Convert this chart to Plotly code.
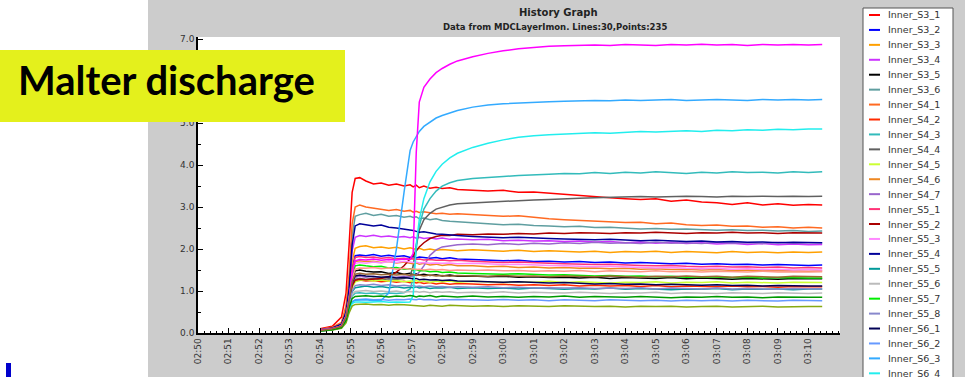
import plotly.graph_objects as go

# ---------------- data ----------------
TIME_LABELS = [
    "02:54:00", "02:54:24", "02:54:42", "02:54:51", "02:54:57", "02:55:03", "02:55:09",
    "02:55:18", "02:55:30", "02:55:45", "02:56:00", "02:56:15", "02:56:30", "02:56:45", "02:56:57",
    "02:57:03", "02:57:09", "02:57:15", "02:57:24", "02:57:36", "02:57:48", "02:58:00", "02:58:15", "02:58:30",
    "02:59:00", "02:59:30", "03:00:00", "03:00:30", "03:01:00", "03:01:30", "03:02:00", "03:02:30",
    "03:03:00", "03:03:30", "03:04:00", "03:04:30", "03:05:00", "03:05:30", "03:06:00", "03:06:30",
    "03:07:00", "03:07:30", "03:08:00", "03:08:30", "03:09:00", "03:09:30", "03:10:00", "03:10:27",
]

TICK_LABELS = ["02:50", "02:51", "02:52", "02:53", "02:54", "02:55", "02:56", "02:57", "02:58",
               "02:59", "03:00", "03:01", "03:02", "03:03", "03:04", "03:05", "03:06", "03:07",
               "03:08", "03:09", "03:10"]

Y_TICKS = [0, 1, 2, 3, 4, 5, 6, 7]
Y_TICK_TEXT = ["0.0", "1.0", "2.0", "3.0", "4.0", "5.0", "", "7.0"]  # 6.0 sits under the banner

SERIES_NAMES = [
    "Inner_S3_1", "Inner_S3_2", "Inner_S3_3", "Inner_S3_4", "Inner_S3_5", "Inner_S3_6",
    "Inner_S4_1", "Inner_S4_2", "Inner_S4_3", "Inner_S4_4", "Inner_S4_5", "Inner_S4_6", "Inner_S4_7",
    "Inner_S5_1", "Inner_S5_2", "Inner_S5_3", "Inner_S5_4", "Inner_S5_5", "Inner_S5_6", "Inner_S5_7",
    "Inner_S5_8", "Inner_S6_1", "Inner_S6_2", "Inner_S6_3", "Inner_S6_4", "Inner_S6_5", "Inner_S6_6",
    "Inner_S6_7", "Inner_S6_8", "Inner_S6_9",
]

SERIES_COLORS = [
    "#ff0000", "#0000ff", "#ffa000", "#cc33ff", "#000000", "#5f9ea0",
    "#ff6a22", "#ff2a00", "#33bbbb", "#606060", "#ccff33", "#ee8822", "#9966cc",
    "#ff3377", "#aa0000", "#ff88ff", "#000099", "#009999", "#bbbbbb", "#00ee00",
    "#8888cc", "#000055", "#6699ff", "#33aaff", "#22eeee", "#88aa11", "#ff9988",
    "#009900", "#ff00ff", "#996633",
]

S3_1 = [0.10, 0.16, 0.38, 0.95, 2.10, 3.35, 3.68,
        3.70, 3.62, 3.55, 3.57, 3.52, 3.55, 3.50, 3.53,
        3.48, 3.52, 3.46, 3.50, 3.45, 3.47, 3.44, 3.46, 3.42,
        3.40, 3.38, 3.40, 3.35, 3.36, 3.33, 3.30, 3.27, 3.25, 3.22, 3.20, 3.18,
        3.20, 3.14, 3.17, 3.12, 3.10, 3.06, 3.10, 3.05, 3.08, 3.04, 3.06, 3.05]
S3_2 = [0.07, 0.11, 0.18, 0.42, 0.85, 1.55, 1.84,
        1.86, 1.84, 1.87, 1.83, 1.85, 1.82, 1.84, 1.80,
        1.82, 1.79, 1.81, 1.80, 1.78, 1.80, 1.77, 1.79, 1.76,
        1.75, 1.74, 1.72, 1.73, 1.70, 1.71, 1.69, 1.70, 1.68, 1.69, 1.67, 1.68,
        1.66, 1.65, 1.66, 1.64, 1.65, 1.63, 1.64, 1.62, 1.63, 1.62, 1.61, 1.62]
S3_3 = [0.07, 0.11, 0.19, 0.45, 0.90, 1.70, 2.02,
        2.06, 2.08, 2.03, 2.05, 2.02, 2.04, 2.00, 2.03,
        2.01, 1.99, 2.02, 1.98, 2.00, 1.97, 1.99, 1.98, 1.96,
        1.98, 1.97, 1.95, 1.97, 1.94, 1.96, 1.95, 1.93, 1.95, 1.92, 1.94, 1.93,
        1.95, 1.92, 1.94, 1.93, 1.91, 1.94, 1.92, 1.93, 1.91, 1.93, 1.92, 1.93]
S3_4 = [0.08, 0.12, 0.20, 0.48, 1.00, 1.95, 2.28,
        2.32, 2.30, 2.33, 2.29, 2.31, 2.28, 2.30, 2.27,
        2.29, 2.26, 2.28, 2.25, 2.27, 2.24, 2.26, 2.23, 2.24,
        2.22, 2.23, 2.20, 2.21, 2.19, 2.20, 2.18, 2.19, 2.17, 2.18, 2.15, 2.17,
        2.14, 2.16, 2.13, 2.15, 2.12, 2.14, 2.11, 2.13, 2.10, 2.12, 2.10, 2.11]
S3_5 = [0.06, 0.10, 0.17, 0.40, 0.80, 1.30, 1.48,
        1.50, 1.47, 1.45, 1.46, 1.42, 1.44, 1.40, 1.42,
        1.39, 1.41, 1.38, 1.40, 1.37, 1.39, 1.36, 1.38, 1.35,
        1.36, 1.34, 1.35, 1.33, 1.34, 1.32, 1.33, 1.31, 1.33, 1.30, 1.32, 1.31,
        1.30, 1.32, 1.29, 1.31, 1.30, 1.28, 1.30, 1.29, 1.28, 1.30, 1.29, 1.29]
S3_6 = [0.08, 0.13, 0.22, 0.55, 1.15, 2.30, 2.78,
        2.82, 2.85, 2.80, 2.83, 2.78, 2.80, 2.76, 2.78,
        2.75, 2.77, 2.72, 2.74, 2.70, 2.72, 2.68, 2.66, 2.65,
        2.62, 2.60, 2.58, 2.59, 2.56, 2.55, 2.53, 2.54, 2.51, 2.52, 2.50, 2.48,
        2.49, 2.47, 2.48, 2.46, 2.45, 2.46, 2.44, 2.45, 2.43, 2.44, 2.42, 2.43]
S4_1 = [0.09, 0.14, 0.25, 0.65, 1.40, 2.60, 3.00,
        3.05, 3.00, 2.97, 2.95, 2.92, 2.94, 2.90, 2.92,
        2.88, 2.90, 2.87, 2.89, 2.86, 2.84, 2.85, 2.83, 2.84,
        2.82, 2.80, 2.78, 2.79, 2.75, 2.72, 2.70, 2.68, 2.66, 2.65, 2.63, 2.64,
        2.60, 2.62, 2.58, 2.56, 2.57, 2.54, 2.55, 2.52, 2.53, 2.50, 2.52, 2.50]
S4_2 = [0.06, 0.10, 0.16, 0.36, 0.75, 1.10, 1.24,
        1.26, 1.24, 1.25, 1.22, 1.24, 1.21, 1.23, 1.20,
        1.22, 1.19, 1.21, 1.18, 1.20, 1.17, 1.19, 1.16, 1.18,
        1.17, 1.15, 1.16, 1.14, 1.15, 1.13, 1.15, 1.12, 1.14, 1.12, 1.13, 1.11,
        1.13, 1.10, 1.12, 1.11, 1.10, 1.12, 1.10, 1.11, 1.09, 1.11, 1.10, 1.10]
S4_3 = [0.06, 0.09, 0.15, 0.33, 0.65, 0.88, 0.95,
        0.96, 0.94, 0.95, 0.93, 0.95, 0.94, 0.96, 1.05,
        1.30, 2.00, 2.55, 2.95, 3.20, 3.38, 3.50, 3.58, 3.63,
        3.68, 3.71, 3.73, 3.75, 3.76, 3.78, 3.80, 3.79, 3.82, 3.80, 3.83, 3.81,
        3.84, 3.82, 3.80, 3.83, 3.81, 3.84, 3.82, 3.83, 3.81, 3.84, 3.82, 3.84]
S4_4 = [0.06, 0.10, 0.16, 0.38, 0.78, 1.15, 1.28,
        1.30, 1.28, 1.30, 1.27, 1.29, 1.28, 1.30, 1.35,
        1.60, 2.10, 2.45, 2.70, 2.85, 2.95, 3.00, 3.05, 3.08,
        3.10, 3.12, 3.14, 3.15, 3.17, 3.18, 3.20, 3.21, 3.22, 3.23, 3.24, 3.25,
        3.24, 3.25, 3.26, 3.25, 3.24, 3.26, 3.25, 3.26, 3.25, 3.26, 3.25, 3.26]
S4_5 = [0.06, 0.10, 0.16, 0.36, 0.72, 1.08, 1.22,
        1.25, 1.27, 1.24, 1.26, 1.23, 1.25, 1.22, 1.24,
        1.23, 1.25, 1.22, 1.24, 1.21, 1.23, 1.22, 1.24, 1.21,
        1.23, 1.22, 1.20, 1.22, 1.21, 1.23, 1.20, 1.22, 1.21, 1.19, 1.21, 1.20,
        1.22, 1.19, 1.21, 1.20, 1.22, 1.19, 1.21, 1.20, 1.19, 1.21, 1.20, 1.20]
S4_6 = [0.07, 0.11, 0.18, 0.42, 0.85, 1.45, 1.70,
        1.72, 1.70, 1.71, 1.68, 1.70, 1.67, 1.69, 1.66,
        1.65, 1.67, 1.64, 1.66, 1.62, 1.64, 1.61, 1.63, 1.60,
        1.60, 1.58, 1.59, 1.56, 1.57, 1.55, 1.56, 1.54, 1.55, 1.53, 1.54, 1.52,
        1.53, 1.51, 1.52, 1.50, 1.51, 1.49, 1.50, 1.48, 1.49, 1.48, 1.47, 1.48]
S4_7 = [0.06, 0.10, 0.16, 0.38, 0.78, 1.18, 1.33,
        1.35, 1.33, 1.35, 1.32, 1.34, 1.33, 1.35, 1.34,
        1.36, 1.38, 1.45, 1.60, 1.85, 1.98, 2.05, 2.08, 2.10,
        2.12, 2.10, 2.13, 2.11, 2.14, 2.12, 2.15, 2.13, 2.16, 2.14, 2.15, 2.13,
        2.16, 2.14, 2.15, 2.13, 2.16, 2.14, 2.15, 2.13, 2.16, 2.14, 2.15, 2.15]
S5_1 = [0.07, 0.11, 0.18, 0.42, 0.85, 1.50, 1.80,
        1.82, 1.80, 1.81, 1.78, 1.80, 1.77, 1.78, 1.76,
        1.77, 1.75, 1.76, 1.74, 1.75, 1.73, 1.74, 1.72, 1.73,
        1.71, 1.70, 1.68, 1.69, 1.67, 1.66, 1.65, 1.64, 1.63, 1.64, 1.62, 1.61,
        1.60, 1.61, 1.59, 1.58, 1.59, 1.57, 1.58, 1.56, 1.57, 1.55, 1.56, 1.55]
S5_2 = [0.06, 0.10, 0.16, 0.37, 0.76, 1.12, 1.26,
        1.28, 1.27, 1.29, 1.30, 1.34, 1.45, 1.60, 1.75,
        1.85, 1.95, 2.05, 2.15, 2.25, 2.30, 2.33, 2.32, 2.35,
        2.34, 2.36, 2.35, 2.37, 2.36, 2.38, 2.37, 2.39, 2.38, 2.37, 2.39, 2.38,
        2.40, 2.38, 2.37, 2.39, 2.38, 2.40, 2.38, 2.39, 2.37, 2.39, 2.38, 2.38]
S5_3 = [0.07, 0.11, 0.17, 0.40, 0.82, 1.40, 1.66,
        1.68, 1.66, 1.69, 1.67, 1.70, 1.68, 1.71, 1.69,
        1.68, 1.69, 1.67, 1.68, 1.66, 1.67, 1.66, 1.67, 1.65,
        1.66, 1.65, 1.63, 1.64, 1.62, 1.61, 1.60, 1.59, 1.58, 1.59, 1.57, 1.56,
        1.55, 1.56, 1.54, 1.53, 1.54, 1.52, 1.53, 1.51, 1.52, 1.50, 1.51, 1.50]
S5_4 = [0.08, 0.12, 0.21, 0.50, 1.05, 2.10, 2.55,
        2.60, 2.58, 2.55, 2.57, 2.52, 2.50, 2.48, 2.45,
        2.44, 2.42, 2.40, 2.41, 2.38, 2.36, 2.35, 2.33, 2.32,
        2.30, 2.29, 2.27, 2.28, 2.26, 2.25, 2.24, 2.23, 2.22, 2.23, 2.21, 2.20,
        2.21, 2.19, 2.18, 2.19, 2.17, 2.18, 2.16, 2.17, 2.15, 2.16, 2.15, 2.15]
S5_5 = [0.06, 0.09, 0.15, 0.34, 0.70, 0.98, 1.08,
        1.10, 1.12, 1.09, 1.11, 1.08, 1.10, 1.07, 1.09,
        1.08, 1.10, 1.07, 1.09, 1.06, 1.08, 1.07, 1.09, 1.06,
        1.08, 1.06, 1.07, 1.05, 1.07, 1.06, 1.04, 1.06, 1.05, 1.07, 1.04, 1.06,
        1.05, 1.03, 1.05, 1.04, 1.06, 1.03, 1.05, 1.04, 1.05, 1.03, 1.05, 1.05]
S5_6 = [0.06, 0.09, 0.14, 0.32, 0.66, 0.92, 0.99,
        1.00, 1.01, 0.99, 1.00, 0.98, 1.00, 0.97, 0.99,
        0.98, 0.99, 0.97, 0.99, 0.96, 0.98, 0.97, 0.98, 0.96,
        0.97, 0.96, 0.98, 0.95, 0.97, 0.96, 0.95, 0.97, 0.96, 0.94, 0.96, 0.95,
        0.97, 0.94, 0.96, 0.95, 0.94, 0.96, 0.95, 0.94, 0.96, 0.95, 0.94, 0.95]
S5_7 = [0.07, 0.10, 0.17, 0.40, 0.82, 1.35, 1.60,
        1.62, 1.60, 1.58, 1.59, 1.55, 1.56, 1.52, 1.53,
        1.50, 1.51, 1.48, 1.49, 1.46, 1.47, 1.44, 1.45, 1.43,
        1.42, 1.41, 1.40, 1.41, 1.39, 1.38, 1.39, 1.37, 1.36, 1.37, 1.35, 1.36,
        1.34, 1.35, 1.33, 1.34, 1.33, 1.32, 1.33, 1.31, 1.32, 1.31, 1.31, 1.31]
S5_8 = [0.06, 0.09, 0.15, 0.35, 0.70, 1.00, 1.13,
        1.15, 1.14, 1.16, 1.13, 1.15, 1.12, 1.14, 1.12,
        1.13, 1.11, 1.12, 1.10, 1.12, 1.10, 1.11, 1.09, 1.10,
        1.09, 1.10, 1.08, 1.09, 1.07, 1.08, 1.07, 1.08, 1.06, 1.07, 1.06, 1.08,
        1.05, 1.07, 1.06, 1.05, 1.07, 1.05, 1.06, 1.05, 1.04, 1.06, 1.05, 1.05]
S6_1 = [0.06, 0.10, 0.16, 0.38, 0.78, 1.20, 1.36,
        1.38, 1.36, 1.35, 1.33, 1.34, 1.31, 1.32, 1.30,
        1.29, 1.30, 1.27, 1.28, 1.26, 1.27, 1.25, 1.26, 1.24,
        1.23, 1.22, 1.21, 1.22, 1.20, 1.19, 1.20, 1.18, 1.17, 1.18, 1.16, 1.17,
        1.15, 1.16, 1.15, 1.14, 1.15, 1.13, 1.14, 1.12, 1.13, 1.12, 1.12, 1.12]
S6_2 = [0.05, 0.08, 0.13, 0.28, 0.55, 0.74, 0.79,
        0.80, 0.81, 0.79, 0.80, 0.78, 0.80, 0.79, 0.81,
        0.80, 0.79, 0.81, 0.79, 0.80, 0.78, 0.80, 0.79, 0.80,
        0.79, 0.78, 0.80, 0.78, 0.79, 0.77, 0.79, 0.78, 0.77, 0.79, 0.78, 0.77,
        0.78, 0.76, 0.78, 0.77, 0.78, 0.76, 0.78, 0.77, 0.76, 0.78, 0.77, 0.77]
S6_3 = [0.05, 0.08, 0.13, 0.28, 0.56, 0.74, 0.78,
        0.78, 0.79, 0.77, 0.78, 0.95, 2.00, 3.35, 4.35,
        4.55, 4.68, 4.80, 4.92, 5.03, 5.12, 5.18, 5.24, 5.30,
        5.38, 5.43, 5.46, 5.48, 5.50, 5.51, 5.52, 5.53, 5.54, 5.53, 5.55, 5.54,
        5.55, 5.56, 5.54, 5.55, 5.56, 5.55, 5.54, 5.56, 5.55, 5.56, 5.55, 5.56]
S6_4 = [0.05, 0.08, 0.12, 0.27, 0.52, 0.70, 0.74,
        0.74, 0.73, 0.74, 0.75, 0.73, 0.74, 0.73, 0.74,
        0.90, 2.10, 2.70, 3.20, 3.60, 3.85, 4.02, 4.17, 4.28,
        4.42, 4.52, 4.60, 4.66, 4.70, 4.72, 4.74, 4.75, 4.77, 4.76, 4.78, 4.80,
        4.79, 4.81, 4.82, 4.80, 4.83, 4.82, 4.84, 4.83, 4.85, 4.84, 4.86, 4.86]
S6_5 = [0.05, 0.07, 0.11, 0.24, 0.48, 0.64, 0.68,
        0.68, 0.69, 0.67, 0.68, 0.66, 0.68, 0.67, 0.66,
        0.67, 0.65, 0.66, 0.64, 0.66, 0.65, 0.64, 0.66, 0.65,
        0.64, 0.65, 0.63, 0.65, 0.64, 0.63, 0.65, 0.64, 0.63, 0.64, 0.62, 0.64,
        0.63, 0.64, 0.62, 0.63, 0.64, 0.62, 0.63, 0.64, 0.62, 0.63, 0.63, 0.63]
S6_6 = [0.07, 0.10, 0.17, 0.40, 0.80, 1.30, 1.52,
        1.55, 1.54, 1.56, 1.53, 1.55, 1.52, 1.54, 1.52,
        1.53, 1.51, 1.52, 1.50, 1.52, 1.50, 1.51, 1.49, 1.50,
        1.49, 1.50, 1.48, 1.49, 1.47, 1.48, 1.47, 1.49, 1.46, 1.48, 1.47, 1.46,
        1.48, 1.46, 1.47, 1.45, 1.47, 1.46, 1.45, 1.47, 1.45, 1.46, 1.45, 1.46]
S6_7 = [0.05, 0.08, 0.13, 0.30, 0.60, 0.82, 0.87,
        0.88, 0.89, 0.87, 0.88, 0.86, 0.88, 0.87, 0.89,
        0.88, 0.86, 0.88, 0.87, 0.89, 0.86, 0.88, 0.87, 0.86,
        0.88, 0.86, 0.87, 0.85, 0.87, 0.86, 0.88, 0.85, 0.87, 0.86, 0.85, 0.87,
        0.86, 0.84, 0.86, 0.85, 0.87, 0.85, 0.86, 0.84, 0.86, 0.85, 0.85, 0.85]
S6_8 = [0.07, 0.11, 0.17, 0.40, 0.82, 1.42, 1.72,
        1.75, 1.74, 1.76, 1.73, 1.75, 1.74, 1.76, 1.75,
        1.90, 4.30, 5.50, 5.85, 6.05, 6.20, 6.30, 6.40, 6.48,
        6.58, 6.66, 6.72, 6.77, 6.80, 6.83, 6.84, 6.85, 6.86, 6.85, 6.87, 6.86,
        6.85, 6.87, 6.86, 6.88, 6.86, 6.87, 6.85, 6.87, 6.86, 6.87, 6.86, 6.87]
S6_9 = [0.06, 0.10, 0.16, 0.38, 0.78, 1.22, 1.40,
        1.42, 1.40, 1.41, 1.39, 1.40, 1.38, 1.40, 1.37,
        1.39, 1.37, 1.38, 1.36, 1.38, 1.36, 1.37, 1.35, 1.37,
        1.36, 1.35, 1.37, 1.35, 1.36, 1.34, 1.36, 1.35, 1.34, 1.36, 1.35, 1.33,
        1.35, 1.34, 1.36, 1.34, 1.35, 1.33, 1.35, 1.34, 1.33, 1.35, 1.34, 1.34]

SERIES_VALUES = [S3_1, S3_2, S3_3, S3_4, S3_5, S3_6,
                 S4_1, S4_2, S4_3, S4_4, S4_5, S4_6, S4_7,
                 S5_1, S5_2, S5_3, S5_4, S5_5, S5_6, S5_7, S5_8,
                 S6_1, S6_2, S6_3, S6_4, S6_5, S6_6, S6_7, S6_8, S6_9]

TITLE = "History Graph"
SUBTITLE = "Data from MDCLayerImon. Lines:30,Points:235"
BANNER = "Malter discharge"

# ---------------- layout helpers ----------------
FIG_W, FIG_H = 965, 377
L, R, T, B = 198, 840, 37, 333
W, H = R - L, B - T


def px(p):
    return (p - L) / W


def py(p):
    return (B - p) / H


DAY = "2024-01-01 "
xs = [DAY + t for t in TIME_LABELS]

fig = go.Figure()
for name, color, vals in zip(SERIES_NAMES, SERIES_COLORS, SERIES_VALUES):
    fig.add_trace(go.Scatter(x=xs, y=vals, mode="lines", name=name,
                             line=dict(color=color, width=1.5), showlegend=False,
                             hoverinfo="skip"))

shapes = [
    dict(type="rect", xref="paper", yref="paper", x0=px(148), x1=px(FIG_W), y0=py(FIG_H), y1=py(0),
         fillcolor="#cccccc", line=dict(width=0), layer="below"),
    dict(type="rect", xref="paper", yref="paper", x0=0, x1=1, y0=0, y1=1,
         fillcolor="white", line=dict(width=0), layer="below"),
    dict(type="rect", xref="paper", yref="paper", x0=px(863), x1=px(953), y0=py(400), y1=py(8),
         fillcolor="white", line=dict(color="#555555", width=1), layer="below"),
    dict(type="rect", xref="paper", yref="paper", x0=px(0), x1=px(345), y0=py(122), y1=py(50),
         fillcolor="#e4f01c", line=dict(width=0), layer="above"),
    dict(type="rect", xref="paper", yref="paper", x0=px(6), x1=px(11), y0=py(FIG_H), y1=py(363),
         fillcolor="#0000cc", line=dict(width=0), layer="above"),
]

annotations = [
    dict(text="<b>" + TITLE + "</b>", xref="paper", yref="paper", x=px(558), y=py(12),
         xanchor="center", yanchor="middle",
         showarrow=False, font=dict(family="DejaVu Sans", size=10, color="#222222")),
    dict(text="<b>" + SUBTITLE + "</b>", xref="paper", yref="paper", x=px(555), y=py(27),
         xanchor="center", yanchor="middle",
         showarrow=False, font=dict(family="DejaVu Sans", size=8.5, color="#222222")),
    dict(text="<b>" + BANNER + "</b>", xref="paper", yref="paper", x=px(16), y=py(80),
         xanchor="left", yanchor="middle", showarrow=False,
         font=dict(family="Lato", size=40, color="black")),
]

for i, (name, color) in enumerate(zip(SERIES_NAMES, SERIES_COLORS)):
    yy = 15 + 14.93 * i
    if yy > FIG_H + 2:
        continue
    shapes.append(dict(type="line", xref="paper", yref="paper", x0=px(869), x1=px(880),
                       y0=py(yy), y1=py(yy), line=dict(color=color, width=2), layer="above"))
    annotations.append(dict(text=name, xref="paper", yref="paper", x=px(886), y=py(yy),
                            xanchor="left", yanchor="middle", showarrow=False,
                            font=dict(family="DejaVu Sans", size=9.5, color="#333333")))

fig.update_layout(
    width=FIG_W, height=FIG_H, autosize=False,
    margin=dict(l=L, r=FIG_W - R, t=T, b=FIG_H - B, pad=0),
    paper_bgcolor="white", plot_bgcolor="white",
    showlegend=False,
    shapes=shapes, annotations=annotations,
    xaxis=dict(
        type="date",
        range=[DAY + "02:50:00", DAY + "03:11:02"],
        tickvals=[DAY + t + ":00" for t in TICK_LABELS],
        ticktext=TICK_LABELS,
        tickangle=-90,
        ticks="inside", ticklen=5, tickcolor="black", tickwidth=1,
        minor=dict(dtick=12000, ticks="inside", ticklen=2.5, tickcolor="black", tickwidth=1),
        showgrid=False, zeroline=False,
        showline=True, linecolor="black", linewidth=1.5,
        tickfont=dict(family="DejaVu Sans", size=9, color="#333333"),
    ),
    yaxis=dict(
        range=[0, 7.05],
        tickvals=Y_TICKS,
        ticktext=Y_TICK_TEXT,
        ticks="inside", ticklen=5, tickcolor="black", tickwidth=1,
        minor=dict(dtick=0.5, ticks="inside", ticklen=3, tickcolor="black", tickwidth=1),
        showgrid=False, zeroline=False,
        showline=True, linecolor="black", linewidth=1.5,
        tickfont=dict(family="DejaVu Sans", size=9, color="#333333"),
    ),
)

fig.write_html("out.html", config={"displayModeBar": False},
               post_script="document.body.style.margin='0';document.body.style.overflow='hidden';")
